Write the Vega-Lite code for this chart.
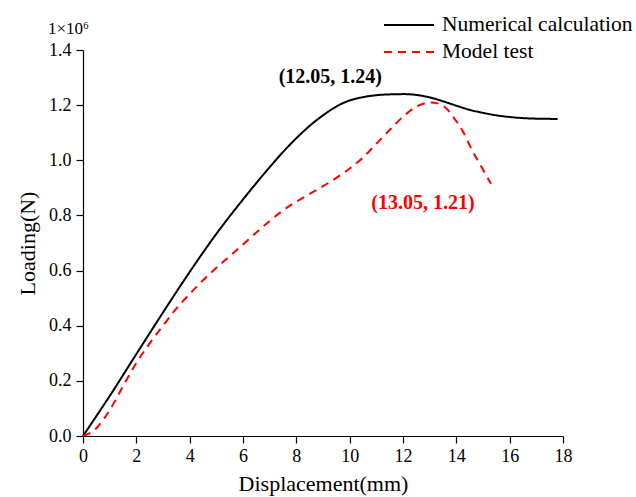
{
  "$schema": "https://vega.github.io/schema/vega-lite/v6.json",
  "autosize": {"type": "none"},
  "width": 480,
  "height": 386,
  "padding": {"left": 83, "top": 50, "right": 73, "bottom": 61},
  "background": "white",
  "config": {
    "view": {"stroke": null},
    "font": "Times New Roman, Liberation Serif, serif",
    "text": {"font": "Times New Roman, Liberation Serif, serif"},
    "legend": {"labelFont": "Times New Roman, Liberation Serif, serif"},
    "axis": {
      "labelFont": "Times New Roman, Liberation Serif, serif",
      "titleFont": "Times New Roman, Liberation Serif, serif",
      "labelColor": "black",
      "titleColor": "black",
      "domainColor": "black",
      "tickColor": "black",
      "labelFontSize": 18,
      "titleFontSize": 22,
      "titleFontWeight": "normal",
      "grid": false,
      "domainWidth": 1.2,
      "tickWidth": 1.2
    }
  },
  "datasets": {
    "curves": [
      {"series": "Numerical calculation", "x": 0, "y": 0},
      {"series": "Numerical calculation", "x": 0.5, "y": 0.072},
      {"series": "Numerical calculation", "x": 1, "y": 0.145},
      {"series": "Numerical calculation", "x": 2, "y": 0.297},
      {"series": "Numerical calculation", "x": 3, "y": 0.448},
      {"series": "Numerical calculation", "x": 4, "y": 0.595},
      {"series": "Numerical calculation", "x": 5, "y": 0.733},
      {"series": "Numerical calculation", "x": 6, "y": 0.858},
      {"series": "Numerical calculation", "x": 7, "y": 0.975},
      {"series": "Numerical calculation", "x": 7.5, "y": 1.03},
      {"series": "Numerical calculation", "x": 8, "y": 1.08},
      {"series": "Numerical calculation", "x": 8.5, "y": 1.125},
      {"series": "Numerical calculation", "x": 9, "y": 1.163},
      {"series": "Numerical calculation", "x": 9.5, "y": 1.195},
      {"series": "Numerical calculation", "x": 10, "y": 1.217},
      {"series": "Numerical calculation", "x": 10.5, "y": 1.229},
      {"series": "Numerical calculation", "x": 11, "y": 1.236},
      {"series": "Numerical calculation", "x": 11.5, "y": 1.239},
      {"series": "Numerical calculation", "x": 12.05, "y": 1.24},
      {"series": "Numerical calculation", "x": 12.5, "y": 1.237},
      {"series": "Numerical calculation", "x": 13, "y": 1.228},
      {"series": "Numerical calculation", "x": 13.5, "y": 1.214},
      {"series": "Numerical calculation", "x": 14, "y": 1.198},
      {"series": "Numerical calculation", "x": 14.5, "y": 1.183},
      {"series": "Numerical calculation", "x": 15, "y": 1.172},
      {"series": "Numerical calculation", "x": 15.5, "y": 1.163},
      {"series": "Numerical calculation", "x": 16, "y": 1.157},
      {"series": "Numerical calculation", "x": 16.5, "y": 1.153},
      {"series": "Numerical calculation", "x": 17, "y": 1.151},
      {"series": "Numerical calculation", "x": 17.8, "y": 1.15},
      {"series": "Model test", "x": 0, "y": 0},
      {"series": "Model test", "x": 0.5, "y": 0.028},
      {"series": "Model test", "x": 1, "y": 0.094},
      {"series": "Model test", "x": 1.5, "y": 0.18},
      {"series": "Model test", "x": 2, "y": 0.265},
      {"series": "Model test", "x": 2.5, "y": 0.336},
      {"series": "Model test", "x": 3, "y": 0.4},
      {"series": "Model test", "x": 3.5, "y": 0.462},
      {"series": "Model test", "x": 4, "y": 0.515},
      {"series": "Model test", "x": 4.5, "y": 0.565},
      {"series": "Model test", "x": 5, "y": 0.61},
      {"series": "Model test", "x": 5.5, "y": 0.652},
      {"series": "Model test", "x": 6, "y": 0.695},
      {"series": "Model test", "x": 6.5, "y": 0.738},
      {"series": "Model test", "x": 7, "y": 0.78},
      {"series": "Model test", "x": 7.5, "y": 0.818},
      {"series": "Model test", "x": 8, "y": 0.85},
      {"series": "Model test", "x": 8.5, "y": 0.878},
      {"series": "Model test", "x": 9, "y": 0.906},
      {"series": "Model test", "x": 9.5, "y": 0.936},
      {"series": "Model test", "x": 10, "y": 0.97},
      {"series": "Model test", "x": 10.5, "y": 1.01},
      {"series": "Model test", "x": 11, "y": 1.06},
      {"series": "Model test", "x": 11.5, "y": 1.11},
      {"series": "Model test", "x": 12, "y": 1.158},
      {"series": "Model test", "x": 12.5, "y": 1.195},
      {"series": "Model test", "x": 13.05, "y": 1.21},
      {"series": "Model test", "x": 13.5, "y": 1.198},
      {"series": "Model test", "x": 13.9, "y": 1.155},
      {"series": "Model test", "x": 14.25, "y": 1.104},
      {"series": "Model test", "x": 14.6, "y": 1.035},
      {"series": "Model test", "x": 14.95, "y": 0.975},
      {"series": "Model test", "x": 15.3, "y": 0.915}
    ],
    "peaks": [
      {"series": "Numerical calculation", "x": 12.05, "y": 1.24, "label": "(12.05, 1.24)"},
      {"series": "Model test", "x": 13.05, "y": 1.21, "label": "(13.05, 1.21)"}
    ],
    "scaleNote": [
      {"x": 0, "y": 1.4, "label": "1×10⁶"}
    ]
  },
  "layer": [
    {
      "data": {"name": "curves"},
      "mark": {"type": "line", "strokeWidth": 2, "interpolate": "monotone"},
      "encoding": {
        "x": {
          "field": "x", "type": "quantitative",
          "scale": {"domain": [0, 18], "nice": false, "zero": false},
          "axis": {
            "title": "Displacement(mm)",
            "values": [0, 1, 2, 3, 4, 5, 6, 7, 8, 9, 10, 11, 12, 13, 14, 15, 16, 17, 18],
            "labelExpr": "datum.value % 2 === 0 ? datum.label : ''",
            "tickSize": {"condition": {"test": "datum.value % 2 === 0", "value": 7}, "value": 5},
            "labelPadding": 4, "titlePadding": 8,
            "labelFlush": false
          }
        },
        "y": {
          "field": "y", "type": "quantitative",
          "scale": {"domain": [0, 1.4], "nice": false},
          "axis": {
            "title": "Loading(N)",
            "values": [0, 0.1, 0.2, 0.3, 0.4, 0.5, 0.6, 0.7, 0.8, 0.9, 1.0, 1.1, 1.2, 1.3, 1.4],
            "format": ".1f",
            "labelExpr": "round(datum.value * 10) % 2 === 0 ? datum.label : ''",
            "tickSize": {"condition": {"test": "round(datum.value * 10) % 2 === 0", "value": 7}, "value": 5},
            "labelPadding": 5, "titlePadding": 9,
            "labelFlush": false
          }
        },
        "color": {
          "field": "series", "type": "nominal",
          "scale": {"domain": ["Numerical calculation", "Model test"], "range": ["black", "red"]},
          "legend": {
            "title": null,
            "orient": "none",
            "legendX": 315,
            "legendY": -36,
            "padding": 0,
            "symbolType": "M-2.5,0H2.5",
            "symbolSize": 400,
            "symbolStrokeWidth": 2,
            "labelFontSize": 21.5,
            "labelColor": "black",
            "labelOffset": 22,
            "rowPadding": 5,
            "labelLimit": 300
          }
        },
        "strokeDash": {
          "field": "series", "type": "nominal",
          "scale": {"domain": ["Numerical calculation", "Model test"], "range": [[1, 0], [8, 6]]},
          "legend": null
        }
      }
    },
    {
      "data": {"name": "scaleNote"},
      "mark": {"type": "text", "fontSize": 17, "color": "black", "align": "left", "baseline": "alphabetic", "dx": -35, "dy": -16},
      "encoding": {
        "x": {"field": "x", "type": "quantitative"},
        "y": {"field": "y", "type": "quantitative"},
        "text": {"field": "label"}
      }
    },
    {
      "data": {"name": "peaks"},
      "transform": [{"filter": "datum.series === 'Numerical calculation'"}],
      "mark": {"type": "text", "fontSize": 20, "fontWeight": "bold", "color": "black", "dx": -74, "dy": -17},
      "encoding": {
        "x": {"field": "x", "type": "quantitative"},
        "y": {"field": "y", "type": "quantitative"},
        "text": {"field": "label"}
      }
    },
    {
      "data": {"name": "peaks"},
      "transform": [{"filter": "datum.series === 'Model test'"}],
      "mark": {"type": "text", "fontSize": 20, "fontWeight": "bold", "color": "red", "dx": -8, "dy": 101},
      "encoding": {
        "x": {"field": "x", "type": "quantitative"},
        "y": {"field": "y", "type": "quantitative"},
        "text": {"field": "label"}
      }
    }
  ]
}
